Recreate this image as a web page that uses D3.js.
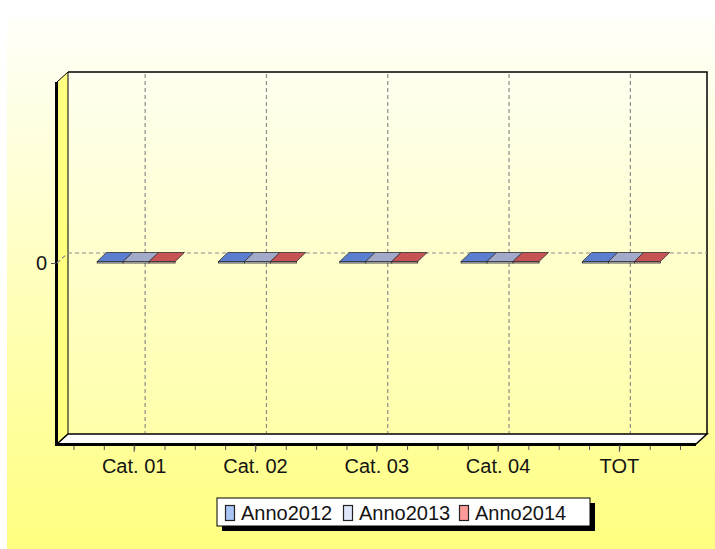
<!DOCTYPE html>
<html>
<head>
<meta charset="utf-8">
<script src="https://cdn.jsdelivr.net/npm/d3@7"></script>
<style>
  body { margin: 0; background: #fff; }
  text { font-family: "Liberation Sans", Arial, sans-serif; fill: #141414; }
</style>
</head>
<body>
<div id="chart"></div>
<script>
// data
var categories = ["Cat. 01", "Cat. 02", "Cat. 03", "Cat. 04", "TOT"];
var seriesNames = ["Anno2012", "Anno2013", "Anno2014"];
var anno2012 = [0, 0, 0, 0, 0];
var anno2013 = [0, 0, 0, 0, 0];
var anno2014 = [0, 0, 0, 0, 0];
var yTicks = [0];

var seriesValues = [anno2012, anno2013, anno2014];
var topColors = ["#5b7ed0", "#a2a9c9", "#c65454"];
var frontColors = ["#c8d8f8", "#e8ecf8", "#f4c0c0"];
var legendColors = ["#a9c4f5", "#dde6fb", "#ff9a9a"];

var width = 715, height = 549;
var DX = 11, DY = -10;            // depth offset of the 3d box
var pLeft = 57, pRight = 696, pTop = 82, pBottom = 444;

var svg = d3.select("#chart").append("svg")
  .attr("width", width)
  .attr("height", height);

var defs = svg.append("defs");
var bg = defs.append("linearGradient").attr("id", "bg")
  .attr("x1", 0).attr("y1", 0).attr("x2", 0).attr("y2", 1);
bg.append("stop").attr("offset", "0%").attr("stop-color", "#fffffa");
bg.append("stop").attr("offset", "100%").attr("stop-color", "#ffff80");
var wall = defs.append("linearGradient").attr("id", "wall")
  .attr("x1", 0).attr("y1", 0).attr("x2", 0).attr("y2", 1);
wall.append("stop").attr("offset", "0%").attr("stop-color", "#fffff0");
wall.append("stop").attr("offset", "100%").attr("stop-color", "#ffffaa");

svg.append("rect")
  .attr("x", 7).attr("y", 18)
  .attr("width", width - 7).attr("height", height - 18)
  .attr("fill", "url(#bg)");

var x = d3.scaleBand()
  .domain(categories)
  .range([73.5, 680]);

var xs = d3.scaleBand()
  .domain(seriesNames)
  .range([-37, 41]);

var y = d3.scaleLinear()
  .domain([-1, 1])
  .range([pBottom, pTop]);

// back wall
svg.append("rect")
  .attr("x", pLeft + DX).attr("y", pTop + DY)
  .attr("width", pRight - pLeft).attr("height", pBottom - pTop)
  .attr("fill", "url(#wall)");

// left wall
svg.append("path")
  .attr("d", d3.line()([[pLeft, pTop], [pLeft + DX, pTop + DY], [pLeft + DX, pBottom + DY], [pLeft, pBottom]]) + "Z")
  .attr("fill", "#ffff80")
  .attr("stroke", "#000")
  .attr("stroke-width", 1);
svg.append("line")
  .attr("x1", pLeft - 0.5).attr("x2", pLeft - 0.5)
  .attr("y1", pTop).attr("y2", pBottom + 1)
  .attr("stroke", "#000").attr("stroke-width", 3);

// floor
svg.append("path")
  .attr("d", d3.line()([[pLeft + DX, pBottom + DY], [pRight + DX, pBottom + DY], [pRight, pBottom], [pLeft, pBottom]]) + "Z")
  .attr("fill", "#fff")
  .attr("stroke", "#000")
  .attr("stroke-width", 1.5);
svg.append("line")
  .attr("x1", pLeft - 2).attr("x2", pRight)
  .attr("y1", pBottom + 0.5).attr("y2", pBottom + 0.5)
  .attr("stroke", "#000").attr("stroke-width", 3);

// back wall border top and right
svg.append("path")
  .attr("d", d3.line()([[pLeft + DX, pTop + DY], [pRight + DX, pTop + DY], [pRight + DX, pBottom + DY]]))
  .attr("fill", "none")
  .attr("stroke", "#000")
  .attr("stroke-width", 1.5);

// grid
var grid = svg.append("g")
  .attr("stroke", "#8c8c8c")
  .attr("stroke-dasharray", "4,3")
  .attr("stroke-width", 1.2);
grid.selectAll("line.v")
  .data(categories)
  .enter().append("line")
  .attr("class", "v")
  .attr("x1", function(d) { return x(d) + x.bandwidth() / 2 + DX; })
  .attr("x2", function(d) { return x(d) + x.bandwidth() / 2 + DX; })
  .attr("y1", pTop + DY + 2)
  .attr("y2", pBottom + DY - 1);
grid.selectAll("line.h")
  .data(yTicks)
  .enter().append("line")
  .attr("class", "h")
  .attr("x1", pLeft + DX)
  .attr("x2", pRight + DX)
  .attr("y1", function(d) { return y(d) + DY; })
  .attr("y2", function(d) { return y(d) + DY; });
grid.selectAll("line.s")
  .data(yTicks)
  .enter().append("line")
  .attr("class", "s")
  .attr("stroke-dasharray", null)
  .attr("x1", pLeft)
  .attr("x2", pLeft + DX)
  .attr("y1", function(d) { return y(d); })
  .attr("y2", function(d) { return y(d) + DY; });

// bars (3d, zero height)
var bdx = DX * 0.85, bdy = DY * 0.9;
var barData = [];
categories.forEach(function(c, i) {
  seriesNames.forEach(function(s, j) {
    barData.push({cat: c, series: s, value: seriesValues[j][i], j: j});
  });
});

var bars = svg.append("g").selectAll("g")
  .data(barData)
  .enter().append("g");

bars.append("rect")
  .attr("x", function(d) { return x(d.cat) + x.bandwidth() / 2 + xs(d.series); })
  .attr("y", function(d) { return Math.min(y(d.value), y(0)) - 1.5; })
  .attr("width", xs.bandwidth())
  .attr("height", function(d) { return Math.abs(y(d.value) - y(0)) + 1.5; })
  .attr("fill", function(d) { return frontColors[d.j]; })
  .attr("stroke", "#222")
  .attr("stroke-width", 0.8);

bars.append("path")
  .attr("d", function(d) {
    var x0 = x(d.cat) + x.bandwidth() / 2 + xs(d.series);
    var w = xs.bandwidth();
    var yv = y(d.value) - 1.5;
    return d3.line()([[x0, yv], [x0 + w, yv], [x0 + w + bdx, yv + bdy], [x0 + bdx, yv + bdy]]) + "Z";
  })
  .attr("fill", function(d) { return topColors[d.j]; })
  .attr("stroke", "#333")
  .attr("stroke-width", 0.8);

// x axis
var xAxis = svg.append("g")
  .attr("transform", "translate(0," + (pBottom + 1) + ")")
  .call(d3.axisBottom(x).tickSize(7).tickSizeOuter(0));
xAxis.select(".domain").remove();
xAxis.selectAll("line").attr("stroke", "#555");
xAxis.selectAll("text")
  .attr("y", 28)
  .attr("dy", 0)
  .attr("fill", "#141414")
  .style("font-size", "20px")
  .style("font-family", "'Liberation Sans', Arial, sans-serif");

var minor = d3.scaleLinear().domain([0, 20]).range([73.5, 680]);
var xMinor = svg.append("g")
  .attr("transform", "translate(0," + (pBottom + 2) + ")")
  .call(d3.axisBottom(minor).tickValues(d3.range(21)).tickFormat("").tickSize(4).tickSizeOuter(0));
xMinor.select(".domain").remove();
xMinor.selectAll("line").attr("stroke", "#555");

// y axis
var yAxis = svg.append("g")
  .attr("transform", "translate(" + (pLeft - 1) + ",0)")
  .call(d3.axisLeft(y).tickValues(yTicks).tickSize(5).tickFormat(d3.format("d")).tickSizeOuter(0));
yAxis.select(".domain").remove();
yAxis.selectAll("line").attr("stroke", "#555");
yAxis.selectAll("text")
  .attr("x", -9)
  .attr("fill", "#141414")
  .style("font-size", "20px")
  .style("font-family", "'Liberation Sans', Arial, sans-serif");

// legend
var lx = 217, ly = 498, lw = 373, lh = 28;
svg.append("rect")
  .attr("x", lx + 5).attr("y", ly + 5)
  .attr("width", lw).attr("height", lh)
  .attr("fill", "#000");
svg.append("rect")
  .attr("x", lx).attr("y", ly)
  .attr("width", lw).attr("height", lh)
  .attr("fill", "#fff")
  .attr("stroke", "#000")
  .attr("stroke-width", 1);

var itemX = [225, 343, 459];
var legend = svg.append("g").selectAll("g")
  .data(seriesNames)
  .enter().append("g")
  .attr("transform", function(d, i) { return "translate(" + itemX[i] + "," + ly + ")"; });
legend.append("rect")
  .attr("x", 0.5).attr("y", 7.5)
  .attr("width", 9).attr("height", 15)
  .attr("fill", function(d, i) { return legendColors[i]; })
  .attr("stroke", "#222")
  .attr("stroke-width", 1.2);
legend.append("text")
  .attr("x", 16)
  .attr("y", 22)
  .style("font-size", "20px")
  .text(function(d) { return d; });
</script>
</body>
</html>
